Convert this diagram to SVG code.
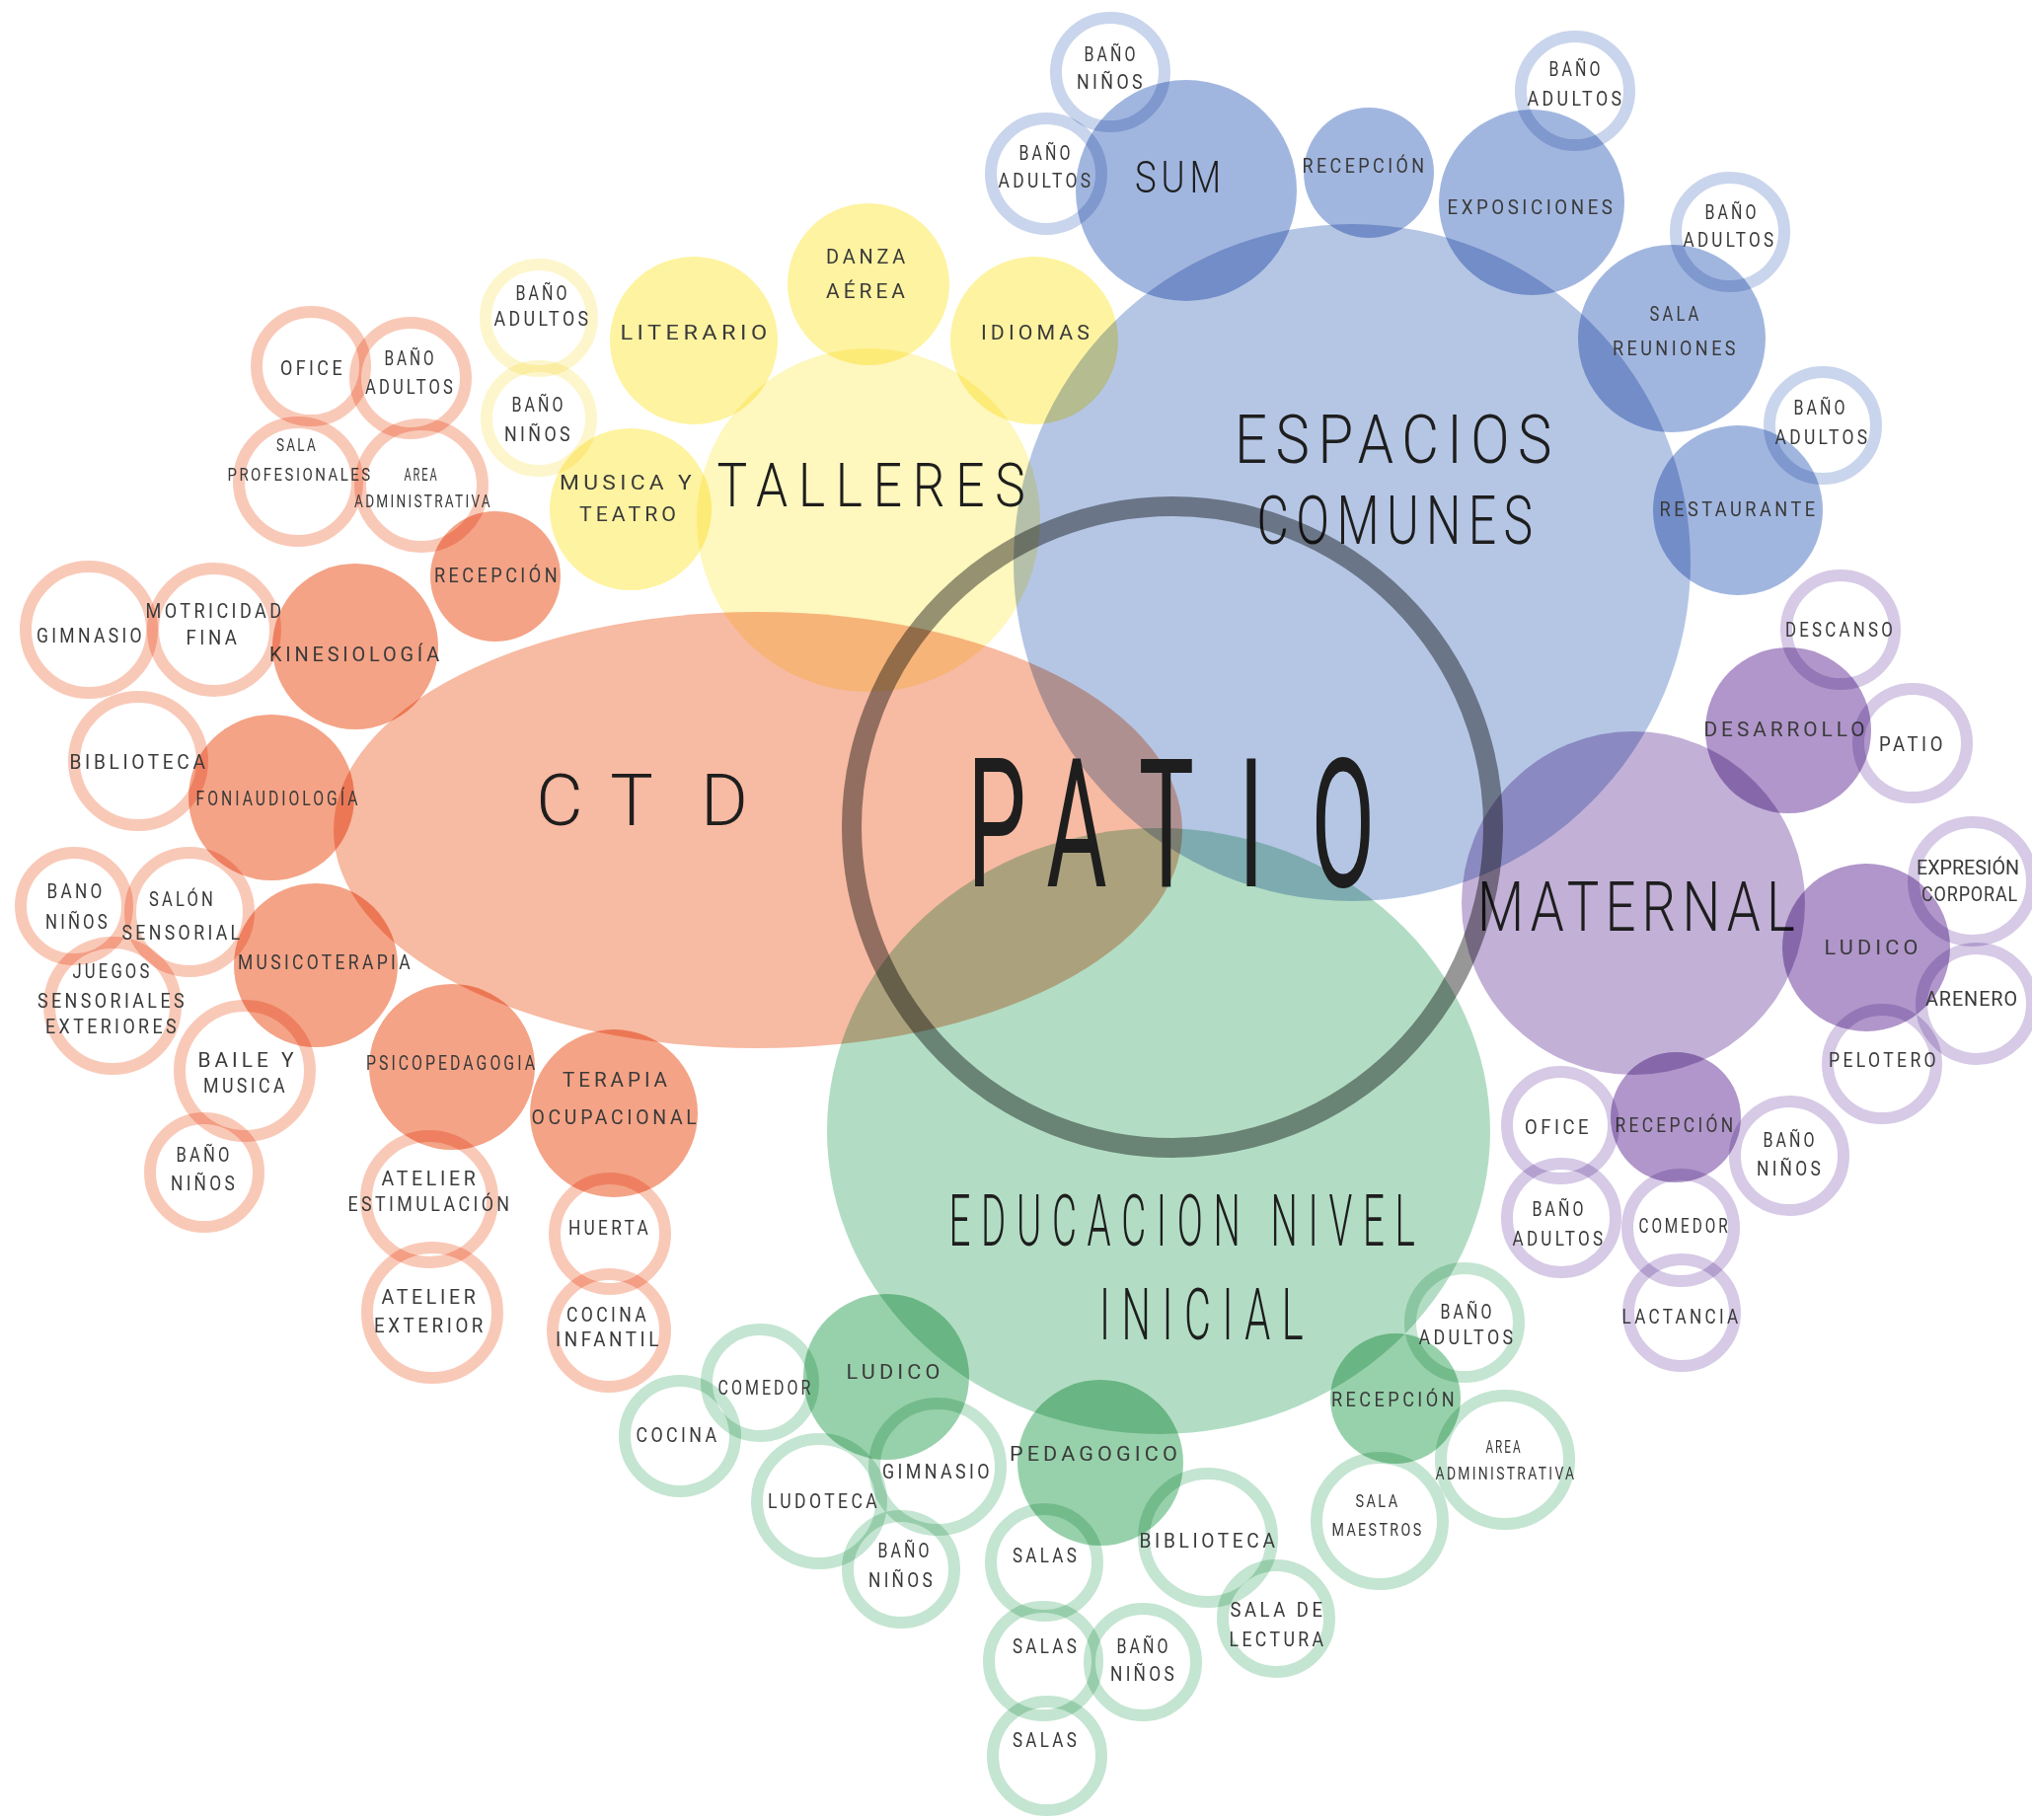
<svg xmlns="http://www.w3.org/2000/svg" width="2059" height="1844" viewBox="0 0 2059 1844">
<style>
circle,ellipse{mix-blend-mode:multiply}
.bctd{fill:#f7baa2}.btal{fill:#fef7be}.besp{fill:#b5c6e5}.bmat{fill:#c2b0d7}.bedu{fill:#b2ddc4}
.so{fill:#f4a386}.sy{fill:#fef3a0}.sb{fill:#a1b6df}.sp{fill:#b096ca}.sg{fill:#97d1ab}
.ro,.ry,.rb,.rp,.rg{fill:none;stroke-width:12}
.ro{stroke:#f9c9b8}.ry{stroke:#fdf6cc}.rb{stroke:#c9d5ec}.rp{stroke:#d6cae6}.rg{stroke:#c4e5d1}
.patio{fill:none;stroke:#979797;stroke-width:20}
text{font-family:Roboto,"Liberation Sans",sans-serif;text-anchor:middle}
.t{font-size:21px;fill:#3a3a3a;letter-spacing:4px}
.ts{font-size:18px;fill:#3a3a3a;letter-spacing:3px}
.tn{letter-spacing:1px}
.tz{letter-spacing:0px}
.h{font-weight:300;fill:#1e1e1e}
</style>
<rect width="2059" height="1844" fill="#ffffff"/>
<g id="connectors"/>

<!-- Big areas -->
<g id="ctd"><ellipse class="bctd" cx="768" cy="841" rx="430" ry="221"/>
<text class="h" x="567 640 734" y="836" font-size="73">CTD</text></g>
<g id="talleres"><circle class="btal" cx="880" cy="527" r="174"/>
<text class="h" x="888" y="513" font-size="62" letter-spacing="13" textLength="323" lengthAdjust="spacingAndGlyphs">TALLERES</text></g>
<g id="espacios-comunes"><circle class="besp" cx="1370" cy="570" r="343"/>
<text class="h" x="1416" y="469" font-size="68" letter-spacing="10" textLength="330" lengthAdjust="spacingAndGlyphs">ESPACIOS</text>
<text class="h" x="1417" y="551" font-size="68" letter-spacing="10" textLength="287" lengthAdjust="spacingAndGlyphs">COMUNES</text></g>
<g id="maternal"><circle class="bmat" cx="1655" cy="915" r="174"/>
<text class="h" x="1661" y="943" font-size="70" letter-spacing="8" textLength="328" lengthAdjust="spacingAndGlyphs">MATERNAL</text></g>
<g id="educacion-nivel-inicial"><ellipse class="bedu" cx="1174" cy="1146" rx="336" ry="307"/>
<text class="h" x="1203" y="1262" font-size="72" letter-spacing="20" textLength="483" lengthAdjust="spacingAndGlyphs">EDUCACION NIVEL</text>
<text class="h" x="1223" y="1357" font-size="72" letter-spacing="20" textLength="218" lengthAdjust="spacingAndGlyphs">INICIAL</text></g>

<!-- CTD sub-nodes -->
<g id="o-recepcion"><circle class="so" cx="502" cy="584" r="66"/><text class="t" x="504" y="590" textLength="128" lengthAdjust="spacingAndGlyphs">RECEPCIÓN</text></g>
<g id="o-kinesiologia"><circle class="so" cx="360" cy="655" r="84"/><text class="t" x="361" y="670" textLength="176" lengthAdjust="spacingAndGlyphs">KINESIOLOGÍA</text></g>
<g id="o-foniaudiologia"><circle class="so" cx="275" cy="808" r="84"/><text class="t" x="282" y="816" textLength="167" lengthAdjust="spacingAndGlyphs">FONIAUDIOLOGÍA</text></g>
<g id="o-musicoterapia"><circle class="so" cx="320" cy="978" r="83"/><text class="t" x="330" y="982" textLength="178" lengthAdjust="spacingAndGlyphs">MUSICOTERAPIA</text></g>
<g id="o-psicopedagogia"><circle class="so" cx="458" cy="1081" r="84"/><text class="t" x="458" y="1084" textLength="174" lengthAdjust="spacingAndGlyphs">PSICOPEDAGOGIA</text></g>
<g id="o-terapia-ocupacional"><circle class="so" cx="622" cy="1128" r="85"/><text class="t" x="625" y="1101" textLength="110" lengthAdjust="spacingAndGlyphs">TERAPIA</text><text class="t" x="624" y="1139" textLength="171" lengthAdjust="spacingAndGlyphs">OCUPACIONAL</text></g>
<g id="o-ofice"><circle class="ro" cx="315" cy="371" r="55"/><text class="t" x="317" y="380" textLength="66" lengthAdjust="spacingAndGlyphs">OFICE</text></g>
<g id="o-bano-adultos"><circle class="ro" cx="416" cy="383" r="56"/><text class="t" x="416" y="370" textLength="53" lengthAdjust="spacingAndGlyphs">BAÑO</text><text class="t" x="416" y="399" textLength="92" lengthAdjust="spacingAndGlyphs">ADULTOS</text></g>
<g id="o-sala-profesionales"><circle class="ro" cx="302" cy="488" r="60"/><text class="ts" x="301" y="457" textLength="42" lengthAdjust="spacingAndGlyphs">SALA</text><text class="ts" x="304" y="487" textLength="147" lengthAdjust="spacingAndGlyphs">PROFESIONALES</text></g>
<g id="o-area-administrativa"><circle class="ro" cx="427" cy="492" r="62"/><text class="ts" x="427" y="487" textLength="35" lengthAdjust="spacingAndGlyphs">AREA</text><text class="ts" x="429" y="514" textLength="140" lengthAdjust="spacingAndGlyphs">ADMINISTRATIVA</text></g>
<g id="o-gimnasio"><circle class="ro" cx="90" cy="638" r="64"/><text class="t" x="92" y="651" textLength="110" lengthAdjust="spacingAndGlyphs">GIMNASIO</text></g>
<g id="o-motricidad-fina"><circle class="ro" cx="217" cy="638" r="62"/><text class="t" x="218" y="626" textLength="141" lengthAdjust="spacingAndGlyphs">MOTRICIDAD</text><text class="t" x="216" y="653" textLength="55" lengthAdjust="spacingAndGlyphs">FINA</text></g>
<g id="o-biblioteca"><circle class="ro" cx="140" cy="771" r="65"/><text class="t" x="141" y="779" textLength="141" lengthAdjust="spacingAndGlyphs">BIBLIOTECA</text></g>
<g id="o-bano-ninos-1"><circle class="ro" cx="75" cy="918" r="54"/><text class="t" x="77" y="910" textLength="59" lengthAdjust="spacingAndGlyphs">BANO</text><text class="t" x="79" y="941" textLength="66" lengthAdjust="spacingAndGlyphs">NIÑOS</text></g>
<g id="o-salon-sensorial"><circle class="ro" cx="192" cy="924" r="60"/><text class="t" x="185" y="918" textLength="68" lengthAdjust="spacingAndGlyphs">SALÓN</text><text class="t" x="185" y="952" textLength="123" lengthAdjust="spacingAndGlyphs">SENSORIAL</text></g>
<g id="o-juegos"><circle class="ro" cx="114" cy="1019" r="64"/><text class="t" x="114" y="991" textLength="81" lengthAdjust="spacingAndGlyphs">JUEGOS</text><text class="t" x="114" y="1021" textLength="152" lengthAdjust="spacingAndGlyphs">SENSORIALES</text><text class="t" x="114" y="1047" textLength="136" lengthAdjust="spacingAndGlyphs">EXTERIORES</text></g>
<g id="o-baile-musica"><circle class="ro" cx="248" cy="1085" r="66"/><text class="t" x="251" y="1081" textLength="101" lengthAdjust="spacingAndGlyphs">BAILE Y</text><text class="t" x="249" y="1107" textLength="86" lengthAdjust="spacingAndGlyphs">MUSICA</text></g>
<g id="o-bano-ninos-2"><circle class="ro" cx="207" cy="1188" r="55"/><text class="t" x="207" y="1177" textLength="57" lengthAdjust="spacingAndGlyphs">BAÑO</text><text class="t" x="207" y="1206" textLength="68" lengthAdjust="spacingAndGlyphs">NIÑOS</text></g>
<g id="o-atelier-estimulacion"><circle class="ro" cx="435" cy="1215" r="64"/><text class="t" x="436" y="1201" textLength="99" lengthAdjust="spacingAndGlyphs">ATELIER</text><text class="t" x="436" y="1227" textLength="167" lengthAdjust="spacingAndGlyphs">ESTIMULACIÓN</text></g>
<g id="o-atelier-exterior"><circle class="ro" cx="438" cy="1330" r="66"/><text class="t" x="436" y="1321" textLength="99" lengthAdjust="spacingAndGlyphs">ATELIER</text><text class="t" x="436" y="1350" textLength="114" lengthAdjust="spacingAndGlyphs">EXTERIOR</text></g>
<g id="o-huerta"><circle class="ro" cx="618" cy="1250" r="56"/><text class="t" x="618" y="1251" textLength="84" lengthAdjust="spacingAndGlyphs">HUERTA</text></g>
<g id="o-cocina-infantil"><circle class="ro" cx="617" cy="1348" r="57"/><text class="t" x="616" y="1339" textLength="84" lengthAdjust="spacingAndGlyphs">COCINA</text><text class="t" x="617" y="1364" textLength="108" lengthAdjust="spacingAndGlyphs">INFANTIL</text></g>

<!-- Talleres sub-nodes -->
<g id="y-literario"><circle class="sy" cx="703" cy="345" r="85"/><text class="t" x="705" y="344" textLength="153" lengthAdjust="spacingAndGlyphs">LITERARIO</text></g>
<g id="y-danza-aerea"><circle class="sy" cx="880" cy="288" r="82"/><text class="t" x="879" y="267" textLength="84" lengthAdjust="spacingAndGlyphs">DANZA</text><text class="t" x="879" y="302" textLength="84" lengthAdjust="spacingAndGlyphs">AÉREA</text></g>
<g id="y-idiomas"><circle class="sy" cx="1048" cy="345" r="85"/><text class="t" x="1051" y="344" textLength="114" lengthAdjust="spacingAndGlyphs">IDIOMAS</text></g>
<g id="y-musica-teatro"><circle class="sy" cx="639" cy="516" r="82"/><text class="t" x="636" y="496" textLength="138" lengthAdjust="spacingAndGlyphs">MUSICA Y</text><text class="t" x="638" y="528" textLength="102" lengthAdjust="spacingAndGlyphs">TEATRO</text></g>
<g id="y-bano-adultos"><circle class="ry" cx="546" cy="322" r="54"/><text class="t" x="550" y="304" textLength="55" lengthAdjust="spacingAndGlyphs">BAÑO</text><text class="t" x="550" y="330" textLength="99" lengthAdjust="spacingAndGlyphs">ADULTOS</text></g>
<g id="y-bano-ninos"><circle class="ry" cx="546" cy="424" r="53"/><text class="t" x="546" y="417" textLength="55" lengthAdjust="spacingAndGlyphs">BAÑO</text><text class="t" x="546" y="447" textLength="70" lengthAdjust="spacingAndGlyphs">NIÑOS</text></g>

<!-- Espacios comunes sub-nodes -->
<g id="b-sum"><circle class="sb" cx="1202" cy="193" r="112"/><text class="h" x="1196" y="195" font-size="45" letter-spacing="6" textLength="92" lengthAdjust="spacingAndGlyphs">SUM</text></g>
<g id="b-recepcion"><circle class="sb" cx="1387" cy="175" r="66"/><text class="t" x="1383" y="175" textLength="127" lengthAdjust="spacingAndGlyphs">RECEPCIÓN</text></g>
<g id="b-exposiciones"><circle class="sb" cx="1552" cy="205" r="94"/><text class="t" x="1552" y="217" textLength="171" lengthAdjust="spacingAndGlyphs">EXPOSICIONES</text></g>
<g id="b-sala-reuniones"><circle class="sb" cx="1694" cy="343" r="95"/><text class="t" x="1698" y="325" textLength="53" lengthAdjust="spacingAndGlyphs">SALA</text><text class="t" x="1698" y="360" textLength="128" lengthAdjust="spacingAndGlyphs">REUNIONES</text></g>
<g id="b-restaurante"><circle class="sb" cx="1761" cy="517" r="86"/><text class="t" x="1762" y="523" textLength="161" lengthAdjust="spacingAndGlyphs">RESTAURANTE</text></g>
<g id="b-bano-ninos"><circle class="rb" cx="1125" cy="73" r="55"/><text class="t" x="1126" y="62" textLength="55" lengthAdjust="spacingAndGlyphs">BAÑO</text><text class="t" x="1126" y="90" textLength="70" lengthAdjust="spacingAndGlyphs">NIÑOS</text></g>
<g id="b-bano-adultos-1"><circle class="rb" cx="1060" cy="176" r="56"/><text class="t" x="1060" y="162" textLength="55" lengthAdjust="spacingAndGlyphs">BAÑO</text><text class="t" x="1060" y="190" textLength="97" lengthAdjust="spacingAndGlyphs">ADULTOS</text></g>
<g id="b-bano-adultos-2"><circle class="rb" cx="1596" cy="92" r="55"/><text class="t" x="1597" y="77" textLength="55" lengthAdjust="spacingAndGlyphs">BAÑO</text><text class="t" x="1597" y="107" textLength="99" lengthAdjust="spacingAndGlyphs">ADULTOS</text></g>
<g id="b-bano-adultos-3"><circle class="rb" cx="1753" cy="235" r="55"/><text class="t" x="1755" y="222" textLength="55" lengthAdjust="spacingAndGlyphs">BAÑO</text><text class="t" x="1753" y="250" textLength="95" lengthAdjust="spacingAndGlyphs">ADULTOS</text></g>
<g id="b-bano-adultos-4"><circle class="rb" cx="1847" cy="431" r="54"/><text class="t" x="1845" y="420" textLength="55" lengthAdjust="spacingAndGlyphs">BAÑO</text><text class="t" x="1847" y="450" textLength="97" lengthAdjust="spacingAndGlyphs">ADULTOS</text></g>

<!-- Maternal sub-nodes -->
<g id="p-desarrollo"><circle class="sp" cx="1812" cy="740" r="84"/><text class="t" x="1810" y="746" textLength="167" lengthAdjust="spacingAndGlyphs">DESARROLLO</text></g>
<g id="p-ludico"><circle class="sp" cx="1891" cy="960" r="85"/><text class="t" x="1898" y="967" textLength="99" lengthAdjust="spacingAndGlyphs">LUDICO</text></g>
<g id="p-recepcion"><circle class="sp" cx="1698" cy="1132" r="66"/><text class="t" x="1698" y="1147" textLength="123" lengthAdjust="spacingAndGlyphs">RECEPCIÓN</text></g>
<g id="p-descanso"><circle class="rp" cx="1865" cy="638" r="55"/><text class="t" x="1865" y="645" textLength="112" lengthAdjust="spacingAndGlyphs">DESCANSO</text></g>
<g id="p-patio"><circle class="rp" cx="1938" cy="753" r="55"/><text class="t" x="1938" y="761" textLength="68" lengthAdjust="spacingAndGlyphs">PATIO</text></g>
<g id="p-expresion-corporal"><circle class="rp" cx="1999" cy="893" r="60"/><text class="t tz" x="1994" y="886" textLength="104" lengthAdjust="spacingAndGlyphs">EXPRESIÓN</text><text class="t tn" x="1996" y="913" textLength="98" lengthAdjust="spacingAndGlyphs">CORPORAL</text></g>
<g id="p-arenero"><circle class="rp" cx="2003" cy="1017" r="56"/><text class="t tn" x="1998" y="1019" textLength="94" lengthAdjust="spacingAndGlyphs">ARENERO</text></g>
<g id="p-pelotero"><circle class="rp" cx="1907" cy="1078" r="55"/><text class="t" x="1909" y="1081" textLength="112" lengthAdjust="spacingAndGlyphs">PELOTERO</text></g>
<g id="p-ofice"><circle class="rp" cx="1581" cy="1140" r="54"/><text class="t" x="1579" y="1149" textLength="68" lengthAdjust="spacingAndGlyphs">OFICE</text></g>
<g id="p-bano-ninos"><circle class="rp" cx="1813" cy="1171" r="55"/><text class="t" x="1814" y="1162" textLength="55" lengthAdjust="spacingAndGlyphs">BAÑO</text><text class="t" x="1814" y="1191" textLength="68" lengthAdjust="spacingAndGlyphs">NIÑOS</text></g>
<g id="p-bano-adultos"><circle class="rp" cx="1582" cy="1234" r="55"/><text class="t" x="1580" y="1232" textLength="55" lengthAdjust="spacingAndGlyphs">BAÑO</text><text class="t" x="1580" y="1262" textLength="95" lengthAdjust="spacingAndGlyphs">ADULTOS</text></g>
<g id="p-comedor"><circle class="rp" cx="1703" cy="1244" r="54"/><text class="t" x="1707" y="1249" textLength="93" lengthAdjust="spacingAndGlyphs">COMEDOR</text></g>
<g id="p-lactancia"><circle class="rp" cx="1704" cy="1330" r="54"/><text class="t" x="1704" y="1341" textLength="121" lengthAdjust="spacingAndGlyphs">LACTANCIA</text></g>

<!-- Educacion sub-nodes -->
<g id="g-ludico"><circle class="sg" cx="898" cy="1395" r="84"/><text class="t" x="907" y="1397" textLength="99" lengthAdjust="spacingAndGlyphs">LUDICO</text></g>
<g id="g-pedagogico"><circle class="sg" cx="1115" cy="1482" r="84"/><text class="t" x="1110" y="1480" textLength="174" lengthAdjust="spacingAndGlyphs">PEDAGOGICO</text></g>
<g id="g-recepcion"><circle class="sg" cx="1414" cy="1417" r="66"/><text class="t" x="1413" y="1425" textLength="128" lengthAdjust="spacingAndGlyphs">RECEPCIÓN</text></g>
<g id="g-bano-adultos"><circle class="rg" cx="1484" cy="1340" r="55"/><text class="t" x="1487" y="1336" textLength="55" lengthAdjust="spacingAndGlyphs">BAÑO</text><text class="t" x="1487" y="1362" textLength="99" lengthAdjust="spacingAndGlyphs">ADULTOS</text></g>
<g id="g-area-administrativa"><circle class="rg" cx="1525" cy="1479" r="65"/><text class="ts" x="1524" y="1472" textLength="37" lengthAdjust="spacingAndGlyphs">AREA</text><text class="ts" x="1526" y="1499" textLength="143" lengthAdjust="spacingAndGlyphs">ADMINISTRATIVA</text></g>
<g id="g-sala-maestros"><circle class="rg" cx="1398" cy="1541" r="64"/><text class="ts" x="1396" y="1527" textLength="45" lengthAdjust="spacingAndGlyphs">SALA</text><text class="ts" x="1396" y="1556" textLength="93" lengthAdjust="spacingAndGlyphs">MAESTROS</text></g>
<g id="g-cocina"><circle class="rg" cx="689" cy="1455" r="56"/><text class="t" x="687" y="1461" textLength="85" lengthAdjust="spacingAndGlyphs">COCINA</text></g>
<g id="g-comedor"><circle class="rg" cx="770" cy="1401" r="54"/><text class="t" x="776" y="1413" textLength="97" lengthAdjust="spacingAndGlyphs">COMEDOR</text></g>
<g id="g-ludoteca"><circle class="rg" cx="830" cy="1521" r="63"/><text class="t" x="835" y="1528" textLength="114" lengthAdjust="spacingAndGlyphs">LUDOTECA</text></g>
<g id="g-gimnasio"><circle class="rg" cx="950" cy="1486" r="64"/><text class="t" x="950" y="1498" textLength="112" lengthAdjust="spacingAndGlyphs">GIMNASIO</text></g>
<g id="g-bano-ninos-1"><circle class="rg" cx="913" cy="1590" r="54"/><text class="t" x="917" y="1578" textLength="55" lengthAdjust="spacingAndGlyphs">BAÑO</text><text class="t" x="914" y="1608" textLength="68" lengthAdjust="spacingAndGlyphs">NIÑOS</text></g>
<g id="g-salas-1"><circle class="rg" cx="1058" cy="1583" r="54"/><text class="t" x="1060" y="1583" textLength="68" lengthAdjust="spacingAndGlyphs">SALAS</text></g>
<g id="g-biblioteca"><circle class="rg" cx="1224" cy="1558" r="65"/><text class="t" x="1225" y="1568" textLength="141" lengthAdjust="spacingAndGlyphs">BIBLIOTECA</text></g>
<g id="g-sala-lectura"><circle class="rg" cx="1293" cy="1640" r="54"/><text class="t" x="1295" y="1638" textLength="97" lengthAdjust="spacingAndGlyphs">SALA DE</text><text class="t" x="1295" y="1668" textLength="99" lengthAdjust="spacingAndGlyphs">LECTURA</text></g>
<g id="g-salas-2"><circle class="rg" cx="1057" cy="1683" r="55"/><text class="t" x="1060" y="1675" textLength="68" lengthAdjust="spacingAndGlyphs">SALAS</text></g>
<g id="g-bano-ninos-2"><circle class="rg" cx="1158" cy="1684" r="54"/><text class="t" x="1159" y="1675" textLength="55" lengthAdjust="spacingAndGlyphs">BAÑO</text><text class="t" x="1159" y="1703" textLength="68" lengthAdjust="spacingAndGlyphs">NIÑOS</text></g>
<g id="g-salas-3"><circle class="rg" cx="1061" cy="1779" r="55"/><text class="t" x="1060" y="1770" textLength="68" lengthAdjust="spacingAndGlyphs">SALAS</text></g>

<!-- Patio -->
<g id="patio"><circle class="patio" cx="1188" cy="838" r="325"/>
<text transform="scale(0.52,1)" x="1942 2098 2273 2438 2617" y="898" font-size="181" font-weight="400" fill="#1e1e1e">PATIO</text></g>
</svg>
